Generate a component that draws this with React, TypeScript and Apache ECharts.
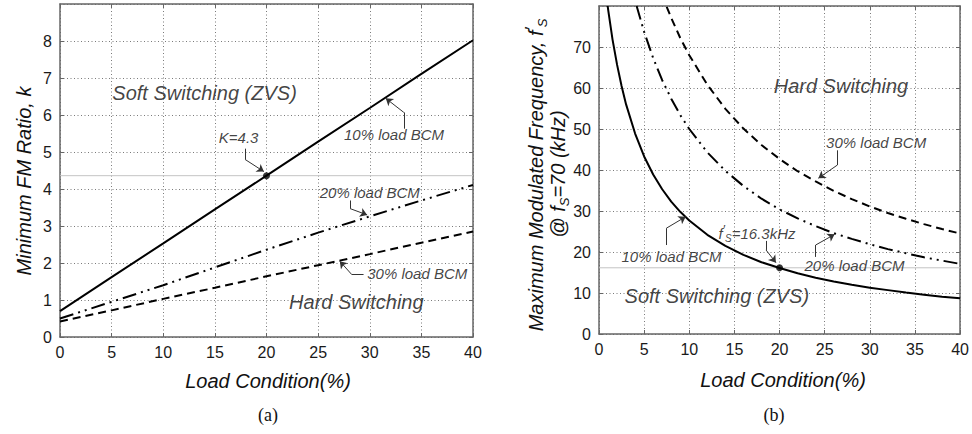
import React, { useEffect, useRef } from "react";
import * as echarts from "echarts";

// ---------- (a) Minimum FM ratio k vs load condition ----------
const loadA: number[] = [0, 5, 10, 15, 20, 25, 30, 35, 40];
const kBcm10: number[] = [0.7, 1.62, 2.53, 3.45, 4.36, 5.28, 6.19, 7.11, 8.02];
const kBcm20: number[] = [0.5, 0.95, 1.4, 1.88, 2.36, 2.82, 3.26, 3.69, 4.11];
const kBcm30: number[] = [0.42, 0.72, 1.03, 1.33, 1.64, 1.94, 2.24, 2.55, 2.85];
const kPoint: number[] = [20, 4.36];
const kRef = 4.36;

// ---------- (b) Maximum modulated frequency vs load condition ----------
const loadB10: number[] = [0.96, 1, 1.5, 2, 2.5, 3, 4, 5, 6, 7, 8, 9, 10, 12, 14, 16, 18, 20, 22, 24, 26, 28, 30, 32, 34, 36, 38, 40];
const fsBcm10: number[] = [80, 79.3, 71.8, 65.7, 60.5, 56.0, 48.9, 43.3, 38.9, 35.3, 32.3, 29.8, 27.7, 24.2, 21.5, 19.3, 17.5, 16.1, 14.8, 13.7, 12.8, 12.0, 11.3, 10.7, 10.1, 9.6, 9.1, 8.7];
const loadB20: number[] = [4.17, 5, 6, 7, 8, 9, 10, 12, 14, 16, 18, 20, 22, 24, 26, 28, 30, 32, 34, 36, 38, 40];
const fsBcm20: number[] = [80, 73.7, 67.3, 61.9, 57.4, 53.4, 50.0, 44.3, 39.8, 36.1, 33.0, 30.4, 28.2, 26.3, 24.6, 23.2, 21.9, 20.7, 19.7, 18.7, 17.9, 17.1];
const loadB30: number[] = [7.5, 8, 9, 10, 12, 14, 16, 18, 20, 22, 24, 26, 28, 30, 32, 34, 36, 38, 40];
const fsBcm30: number[] = [79.8, 77.1, 72.2, 68.0, 60.8, 54.9, 50.1, 46.1, 42.7, 39.7, 37.2, 34.9, 32.9, 31.1, 29.5, 28.1, 26.8, 25.6, 24.5];
const fsPoint: number[] = [20, 16.15];
const fsRef = 16.15;

// axis ranges
const xRange = { min: 0, max: 40, interval: 5 };
const yRangeA = { min: 0, max: 9, interval: 1 };
const yRangeB = { min: 0, max: 80, interval: 10 };

// annotations (data coordinates)
const notesA = [
  { text: "Soft Switching (ZVS)", at: [14.0, 6.6], size: 20 },
  { text: "Hard Switching", at: [28.7, 0.94], size: 20 },
  { text: "K=4.3", at: [17.3, 5.39], size: 15 },
  { text: "10% load BCM", at: [32.35, 5.47], size: 15 },
  { text: "20% load BCM", at: [30.0, 3.91], size: 15 },
  { text: "30% load BCM", at: [34.6, 1.72], size: 15 },
];
const arrowsA: number[][][] = [
  [[17.92, 5.09], [17.92, 4.8], [19.75, 4.47]],
  [[33.3, 5.63], [33.3, 6.07], [31.55, 6.45]],
  [[28.1, 3.69], [28.1, 3.47], [29.75, 3.3]],
  [[29.4, 1.69], [28.25, 1.69], [27.1, 2.05]],
];
const notesB = [
  { text: "Hard Switching", at: [26.8, 60.4], size: 20 },
  { text: "30% load BCM", at: [30.7, 46.8], size: 15 },
  { text: "20% load BCM", at: [28.3, 16.8], size: 15 },
  { text: "10% load BCM", at: [8.03, 18.8], size: 15 },
  { text: "{i|f}{p|′}{s|S}{i|=16.3kHz}", at: [17.5, 24.6], size: 15 },
  { text: "Soft Switching (ZVS)", at: [13.05, 9.26], size: 20 },
];
const arrowsB: number[][][] = [
  [[26.4, 44.8], [26.4, 41.2], [24.3, 38.0]],
  [[24.0, 18.8], [24.0, 21.7], [26.1, 24.3]],
  [[7.46, 21.7], [7.46, 25.8], [9.6, 28.6]],
  [[18.5, 22.7], [18.5, 20.5], [19.6, 17.4]],
];

const FONT = "'Liberation Sans', Arial, Helvetica, sans-serif";
const AXIS_COLOR = "#666";
const GRID_COLOR = "#7a7a7a";

function xAxes(grid: number) {
  const common = {
    type: "value",
    gridIndex: grid,
    min: xRange.min,
    max: xRange.max,
    interval: xRange.interval,
  };
  return [
    {
      ...common,
      position: "bottom",
      axisLine: { show: true, onZero: false, lineStyle: { color: AXIS_COLOR, width: 1.5 } },
      axisTick: { show: true, inside: true, length: 4, lineStyle: { color: AXIS_COLOR } },
      axisLabel: { color: "#1a1a1a", fontSize: 16, fontFamily: FONT, margin: 7 },
      splitLine: { show: true, lineStyle: { color: GRID_COLOR, type: [1, 2.5], width: 1 } },
    },
    {
      ...common,
      position: "top",
      axisLine: { show: true, onZero: false, lineStyle: { color: AXIS_COLOR, width: 1.5 } },
      axisTick: { show: true, inside: true, length: 4, lineStyle: { color: AXIS_COLOR } },
      axisLabel: { show: false },
      splitLine: { show: false },
    },
  ];
}

function yAxes(grid: number, r: { min: number; max: number; interval: number }) {
  const common = { type: "value", gridIndex: grid, min: r.min, max: r.max, interval: r.interval };
  return [
    {
      ...common,
      position: "left",
      axisLine: { show: true, onZero: false, lineStyle: { color: AXIS_COLOR, width: 1.5 } },
      axisTick: { show: true, inside: true, length: 4, lineStyle: { color: AXIS_COLOR } },
      axisLabel: { color: "#1a1a1a", fontSize: 16, fontFamily: FONT, margin: 8, showMaxLabel: false },
      splitLine: { show: true, lineStyle: { color: GRID_COLOR, type: [1, 2.5], width: 1 } },
    },
    {
      ...common,
      position: "right",
      axisLine: { show: true, onZero: false, lineStyle: { color: AXIS_COLOR, width: 1.5 } },
      axisTick: { show: true, inside: true, length: 4, lineStyle: { color: AXIS_COLOR } },
      axisLabel: { show: false },
      splitLine: { show: false },
    },
  ];
}

const zip = (xs: number[], ys: number[]) => xs.map((x, i) => [x, ys[i]]);

const rich = {
  i: { fontFamily: FONT, fontStyle: "italic", fontSize: 15, color: "#111", lineHeight: 20 },
  p: { fontFamily: FONT, fontStyle: "italic", fontSize: 13, color: "#111", verticalAlign: "top" },
  s: { fontFamily: FONT, fontStyle: "italic", fontSize: 10, color: "#111", verticalAlign: "bottom" },
};

function curve(xi: number, yi: number, data: number[][], type: any, name: string) {
  return {
    type: "line",
    name,
    xAxisIndex: xi,
    yAxisIndex: yi,
    data,
    showSymbol: false,
    symbol: "none",
    clip: true,
    z: 4,
    lineStyle: { color: "#000", width: 2, type },
  };
}

function refLine(xi: number, yi: number, y: number) {
  return {
    type: "line",
    xAxisIndex: xi,
    yAxisIndex: yi,
    data: [
      [xRange.min, y],
      [xRange.max, y],
    ],
    showSymbol: false,
    symbol: "none",
    silent: true,
    z: 1,
    lineStyle: { color: "#c4c4c4", width: 1, type: "solid" },
  };
}

function arrowSeries(xi: number, yi: number, arrows: number[][][]) {
  const stems: any[] = [];
  const heads: any[] = [];
  arrows.forEach((pts) => {
    for (let i = 0; i < pts.length - 1; i++) {
      const seg = { coords: [pts[i], pts[i + 1]] };
      if (i === pts.length - 2) heads.push(seg);
      else stems.push(seg);
    }
  });
  const base = {
    type: "lines",
    coordinateSystem: "cartesian2d",
    xAxisIndex: xi,
    yAxisIndex: yi,
    silent: true,
    z: 5,
    lineStyle: { color: "#333", width: 1, opacity: 1, curveness: 0 },
  };
  return [
    { ...base, data: stems, symbol: ["none", "none"] },
    { ...base, data: heads, symbol: ["none", "arrow"], symbolSize: 7 },
  ];
}

function noteSeries(xi: number, yi: number, notes: { text: string; at: number[]; size: number }[]) {
  return {
    type: "scatter",
    xAxisIndex: xi,
    yAxisIndex: yi,
    symbolSize: 1,
    silent: true,
    z: 6,
    itemStyle: { color: "rgba(0,0,0,0)" },
    label: {
      show: true,
      position: "inside",
      fontFamily: FONT,
      fontStyle: "italic",
      color: "#111",
    },
    data: notes.map((n) => ({
      value: n.at,
      label: { formatter: n.text, fontSize: n.size, rich },
    })),
  };
}

function dotSeries(xi: number, yi: number, p: number[]) {
  return {
    type: "scatter",
    xAxisIndex: xi,
    yAxisIndex: yi,
    symbol: "circle",
    symbolSize: 7,
    z: 7,
    itemStyle: { color: "#000" },
    data: [p],
  };
}

const centered = {
  align: "center",
  verticalAlign: "middle",
  textAlign: "center",
  textVerticalAlign: "middle",
};

export default function App() {
  const ref = useRef<HTMLDivElement>(null);

  useEffect(() => {
    if (!ref.current) return;
    const chart = echarts.init(ref.current, null, { renderer: "svg" });

    const nameRich = {
      m: { fontFamily: FONT, fontStyle: "italic", fontSize: 20, color: "#111", lineHeight: 26 },
      p: { fontFamily: FONT, fontStyle: "italic", fontSize: 17, color: "#111", verticalAlign: "top" },
      s: { fontFamily: FONT, fontStyle: "italic", fontSize: 13, color: "#111", verticalAlign: "bottom" },
    };

    const option: any = {
      animation: false,
      backgroundColor: "#fff",
      grid: [
        { left: 60, top: 4, width: 413, height: 333, containLabel: false },
        { left: 599, top: 6, width: 367, height: 328, containLabel: false },
      ],
      xAxis: [...xAxes(0), ...xAxes(1)],
      yAxis: [...yAxes(0, yRangeA), ...yAxes(1, yRangeB)],
      series: [
        refLine(0, 0, kRef),
        curve(0, 0, zip(loadA, kBcm10), "solid", "10% load BCM"),
        curve(0, 0, zip(loadA, kBcm20), [14, 5, 2, 5, 2, 5], "20% load BCM"),
        curve(0, 0, zip(loadA, kBcm30), [8, 5], "30% load BCM"),
        dotSeries(0, 0, kPoint),
        ...arrowSeries(0, 0, arrowsA),
        noteSeries(0, 0, notesA),

        refLine(2, 2, fsRef),
        curve(2, 2, zip(loadB10, fsBcm10), "solid", "10% load BCM"),
        curve(2, 2, zip(loadB20, fsBcm20), [14, 5, 2, 5, 2, 5], "20% load BCM"),
        curve(2, 2, zip(loadB30, fsBcm30), [8, 5], "30% load BCM"),
        dotSeries(2, 2, fsPoint),
        ...arrowSeries(2, 2, arrowsB),
        noteSeries(2, 2, notesB),
      ],
      graphic: [
        {
          type: "text",
          x: 24,
          y: 181,
          rotation: Math.PI / 2,
          style: {
            text: "Minimum FM Ratio, k",
            fontFamily: FONT,
            fontStyle: "italic",
            fontSize: 20,
            fill: "#111",
            ...centered,
          },
        },
        {
          type: "text",
          x: 536,
          y: 175,
          rotation: Math.PI / 2,
          style: {
            text: "{m|Maximum Modulated Frequency, f}{p|′}{s|S}",
            rich: nameRich,
            fill: "#111",
            ...centered,
          },
        },
        {
          type: "text",
          x: 558,
          y: 174,
          rotation: Math.PI / 2,
          style: {
            text: "{m|@ f}{s|S}{m|=70 (kHz)}",
            rich: nameRich,
            fill: "#111",
            ...centered,
          },
        },
        {
          type: "text",
          x: 268,
          y: 415,
          style: {
            text: "(a)",
            fontFamily: "'Liberation Serif', 'Times New Roman', serif",
            fontSize: 18,
            fill: "#111",
            ...centered,
          },
        },
        {
          type: "text",
          x: 774,
          y: 415,
          style: {
            text: "(b)",
            fontFamily: "'Liberation Serif', 'Times New Roman', serif",
            fontSize: 18,
            fill: "#111",
            ...centered,
          },
        },
        {
          type: "text",
          x: 268,
          y: 381,
          style: {
            text: "Load Condition(%)",
            fontFamily: FONT,
            fontStyle: "italic",
            fontSize: 20,
            fill: "#111",
            ...centered,
          },
        },
        {
          type: "text",
          x: 783,
          y: 380,
          style: {
            text: "Load Condition(%)",
            fontFamily: FONT,
            fontStyle: "italic",
            fontSize: 20,
            fill: "#111",
            ...centered,
          },
        },
      ],
    };

    chart.setOption(option);
    return () => chart.dispose();
  }, []);

  return (
    <div
      ref={ref}
      style={{ position: "absolute", left: 0, top: 0, width: 972, height: 434, background: "#fff" }}
    />
  );
}
